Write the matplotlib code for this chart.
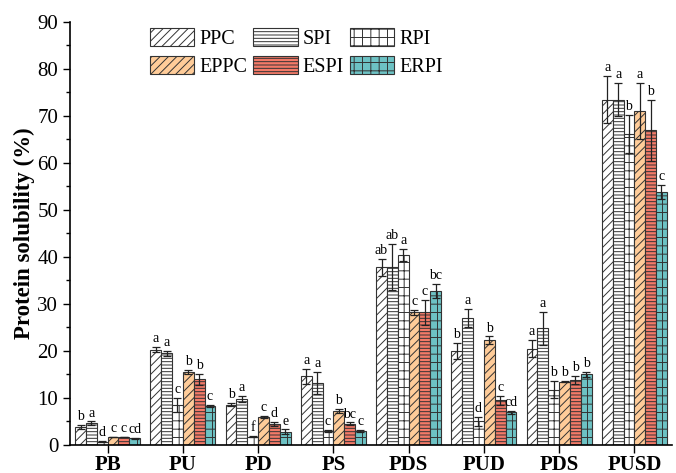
import numpy as np
import matplotlib
matplotlib.use('Agg')
import matplotlib.pyplot as plt

plt.rcParams['font.family'] = ['Liberation Serif', 'DejaVu Serif']
plt.rcParams['hatch.linewidth'] = 0.7

categories = ['PB', 'PU', 'PD', 'PS', 'PDS', 'PUD', 'PDS', 'PUSD']
series = ['PPC', 'SPI', 'RPI', 'EPPC', 'ESPI', 'ERPI']

# mean solubility per series, one value per category
ppc = [3.8, 20.3, 8.6, 14.6, 37.8, 20.0, 20.5, 73.5]
spi = [4.6, 19.5, 9.8, 13.2, 37.8, 27.0, 24.8, 73.5]
rpi = [0.7, 8.5, 1.8, 3.0, 40.5, 5.0, 11.8, 66.2]
eppc = [1.7, 15.5, 6.0, 7.3, 28.2, 22.3, 13.5, 71.0]
espi = [1.7, 14.0, 4.5, 4.5, 28.2, 9.5, 13.8, 67.0]
erpi = [1.4, 8.3, 2.8, 3.0, 32.8, 7.0, 15.0, 53.9]

# standard deviations
ppc_sd = [0.5, 0.6, 0.3, 1.6, 1.8, 1.7, 1.8, 5.0]
spi_sd = [0.4, 0.5, 0.6, 2.3, 4.9, 2.0, 3.5, 3.5]
rpi_sd = [0.1, 1.5, 0.1, 0.2, 1.3, 1.0, 1.8, 4.0]
eppc_sd = [0.1, 0.4, 0.2, 0.4, 0.6, 0.8, 0.2, 6.0]
espi_sd = [0.1, 1.2, 0.4, 0.3, 2.6, 1.0, 0.8, 6.5]
erpi_sd = [0.1, 0.2, 0.5, 0.2, 1.5, 0.3, 0.5, 1.5]

# significance letters
ppc_lab = ['b', 'a', 'b', 'a', 'ab', 'b', 'a', 'a']
spi_lab = ['a', 'a', 'a', 'a', 'ab', 'a', 'a', 'a']
rpi_lab = ['d', 'c', 'f', 'c', 'a', 'd', 'b', 'b']
eppc_lab = ['c', 'b', 'c', 'b', 'c', 'b', 'b', 'a']
espi_lab = ['c', 'b', 'd', 'bc', 'c', 'c', 'b', 'b']
erpi_lab = ['cd', 'c', 'e', 'c', 'bc', 'cd', 'b', 'c']

means = [ppc, spi, rpi, eppc, espi, erpi]
sds = [ppc_sd, spi_sd, rpi_sd, eppc_sd, espi_sd, erpi_sd]
labs = [ppc_lab, spi_lab, rpi_lab, eppc_lab, espi_lab, erpi_lab]

colors = ['white', 'white', 'white', '#FFCC99', '#F47A68', '#6DC2C4']
hatches = ['////', '-----', '++', '////', '-----', '++']

fig = plt.figure(figsize=(6.76, 4.73), dpi=100)
ax = fig.add_axes([0.1036, 0.0592, 0.8905, 0.8943])

x = np.arange(len(categories))
width = 0.144
handles = []
for i in range(len(series)):
    pos = x + (i - 2.5) * width
    b = ax.bar(pos, means[i], width, color=colors[i], edgecolor='#333333',
               linewidth=0.8, hatch=hatches[i], label=series[i])
    ax.errorbar(pos, means[i], yerr=sds[i], fmt='none', ecolor='#222222',
                elinewidth=0.9, capsize=3, capthick=0.9)
    for j in range(len(categories)):
        ax.text(pos[j], means[i][j] + sds[i][j] + 0.4, labs[i][j],
                ha='center', va='bottom', fontsize=10)
    handles.append(b)

ax.set_xlim(-0.5, 7.5)
ax.set_ylim(0, 90)
ax.set_yticks(np.arange(0, 91, 10))
ax.set_yticks(np.arange(0, 91, 5), minor=True)
ax.set_xticks(x)
ax.set_xticklabels(categories, fontsize=15, fontweight='bold')
ax.tick_params(axis='y', labelsize=15, direction='out', length=5, width=1)
ax.tick_params(axis='y', which='minor', length=3, width=1)
ax.tick_params(axis='x', direction='out', length=6, width=1, pad=1)
ax.set_ylabel('Protein solubility (%)', fontsize=16.5, fontweight='bold',
              labelpad=2)
ax.spines['top'].set_visible(False)
ax.spines['right'].set_visible(False)
ax.spines['left'].set_linewidth(1.2)
ax.spines['bottom'].set_linewidth(1.2)

order = [0, 3, 1, 4, 2, 5]
ax.legend([handles[k] for k in order], [series[k] for k in order], ncol=3,
          loc='upper left', bbox_to_anchor=(0.133, 0.985), frameon=False,
          fontsize=14.5, handlelength=2.2, handleheight=1.0, borderpad=0,
          borderaxespad=0, columnspacing=0.3, handletextpad=0.25,
          labelspacing=0.35)

fig.savefig('out.png', dpi=100)
